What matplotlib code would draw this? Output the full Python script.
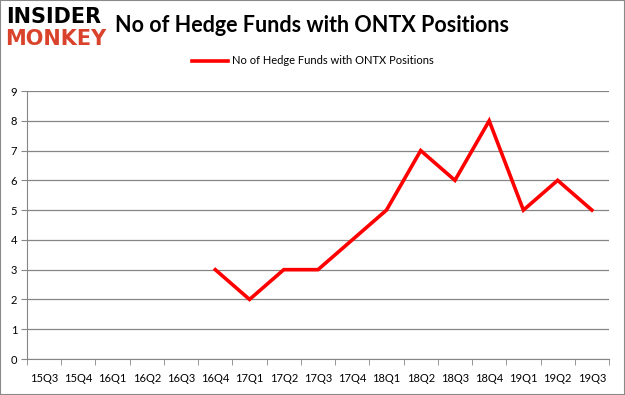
import numpy as np
import matplotlib.pyplot as plt
from matplotlib.patches import Rectangle

quarters = ["15Q3", "15Q4", "16Q1", "16Q2", "16Q3", "16Q4", "17Q1", "17Q2", "17Q3",
            "17Q4", "18Q1", "18Q2", "18Q3", "18Q4", "19Q1", "19Q2", "19Q3"]
funds = [None, None, None, None, None, 3, 2, 3, 3, 4, 5, 7, 6, 8, 5, 6, 5]
series_name = "No of Hedge Funds with ONTX Positions"

GRID = "#868686"
FONT = ["Lato", "DejaVu Sans"]

fig = plt.figure(figsize=(6.25, 3.95), dpi=100)
ax = fig.add_axes([27 / 625, 36 / 395, 582 / 625, 268 / 395])

x = np.arange(len(quarters))
y = np.array([np.nan if v is None else v for v in funds], dtype=float)
ax.plot(x, y, color="#ff0000", lw=2.6, solid_joinstyle="miter", label=series_name)

ax.set_xlim(-0.5, len(quarters) - 0.5)
ax.set_ylim(0, 9)
ax.set_yticks(range(10))
ax.set_xticks(x)
ax.set_xticklabels(quarters, fontsize=8, family=FONT)
ax.set_xticks(np.arange(-0.5, len(quarters)), minor=True)
ax.tick_params(axis="x", which="major", length=0, pad=10)
ax.tick_params(axis="x", which="minor", length=4, color=GRID, direction="out")
ax.tick_params(axis="y", length=4, color=GRID, labelsize=8, pad=3)
for lab in ax.get_yticklabels():
    lab.set_family(FONT)
ax.yaxis.grid(True, color=GRID, lw=0.9)
ax.set_axisbelow(True)
for s in ["top", "right"]:
    ax.spines[s].set_visible(False)
for s in ["left", "bottom"]:
    ax.spines[s].set_color(GRID)

leg = fig.legend(loc="center", bbox_to_anchor=(0.5, 1 - 61 / 395), frameon=False,
                 prop={"family": FONT, "size": 8}, handlelength=3.3, handletextpad=0.3)

fig.text(115 / 625, 1 - 25 / 395, "No of Hedge Funds with ONTX Positions",
         fontsize=15.5, fontweight="bold", family=FONT, va="center", ha="left")
fig.text(6 / 625, 1 - 17 / 395, "INSIDER", fontsize=15, fontweight="heavy",
         family=["DejaVu Sans"], color="black", va="center", ha="left")
fig.text(5 / 625, 1 - 39 / 395, "MONKEY", fontsize=15, fontweight="heavy",
         family=["DejaVu Sans"], color="#d9432c", va="center", ha="left")

fig.patches.append(Rectangle((0, 0), 1, 1, transform=fig.transFigure, fill=False,
                             edgecolor="#898989", lw=1.5))

fig.savefig("out.png", dpi=100)
